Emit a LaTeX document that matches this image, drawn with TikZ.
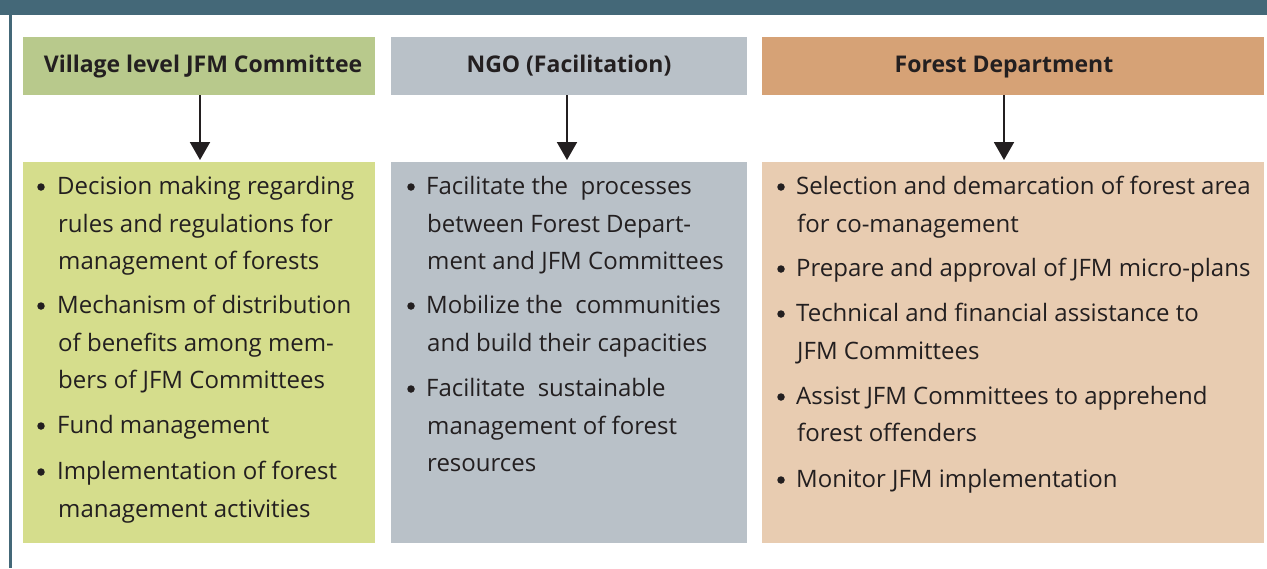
\documentclass[tikz,border=0pt]{standalone}
\usepackage{fontspec}
\setmainfont{Open Sans}
\usetikzlibrary{arrows.meta}
\definecolor{barteal}{HTML}{446878}
\definecolor{hgreen}{HTML}{B8C98C}
\definecolor{bgreen}{HTML}{D5DD8C}
\definecolor{ngogrey}{HTML}{B9C1C8}
\definecolor{horange}{HTML}{D6A276}
\definecolor{borange}{HTML}{E8CCB1}
\definecolor{ink}{HTML}{231F20}
\newcommand\txtline[4]{\node[txt,name=#1] at (#2,#3) {#4};}
\newcommand\dotmark[3]{\node[blt,name=#1] at (#2,#3) {};}
\begin{document}
\begin{tikzpicture}[x=1pt,y=-1pt,
  head/.style={fill=#1,draw=none,inner sep=0},
  body/.style={fill=#1,draw=none,inner sep=0},
  htxt/.style={text=ink,font=\fontsize{23}{27}\selectfont\bfseries,inner sep=0,anchor=base},
  txt/.style={text=ink,font=\fontsize{24}{28}\selectfont,inner sep=0,anchor=base west},
  blt/.style={circle,fill=ink,draw=none,inner sep=0,minimum size=7.5pt},
  flow/.style={draw=ink,line width=2pt,-{Triangle[width=20pt,length=18pt]}}]
\useasboundingbox (0,0) rectangle (1267,568);
% frame
\fill[barteal] (0,0) rectangle (1267,15);
\fill[barteal] (9,15) rectangle (12,568);
% headers
\path[head=hgreen] (23,37) rectangle (375,95);
\path[head=ngogrey] (391,37) rectangle (747,95);
\path[head=horange] (762,37) rectangle (1264,95);
\node[htxt,name=h1] at (203,72) {Village level JFM Committee};
\node[htxt,name=h2] at (569,72) {NGO (Facilitation)};
\node[htxt,name=h3] at (1004,72) {Forest Department};
% bodies
\path[body=bgreen] (23,162) rectangle (375,543);
\path[body=ngogrey] (391,162) rectangle (747,543);
\path[body=borange] (762,162) rectangle (1264,543);
\coordinate (b1) at (200,160);
\coordinate (b2) at (567,160);
\coordinate (b3) at (1004,160);
\coordinate (t1) at (200,95);
\coordinate (t2) at (567,95);
\coordinate (t3) at (1004,95);
\draw[flow] (t1) -- (b1);
\draw[flow] (t2) -- (b2);
\draw[flow] (t3) -- (b3);
% column 1
\dotmark{p11}{41}{187}
\txtline{a1}{57}{194}{Decision making regarding}
\txtline{a2}{58}{232}{rules and regulations for}
\txtline{a3}{58}{269}{management of forests}
\dotmark{p12}{41}{306}
\txtline{a4}{57}{313}{Mechanism of distribution}
\txtline{a5}{58}{351}{of benefits among mem-}
\txtline{a6}{58}{388}{bers of JFM Committees}
\dotmark{p13}{41}{426}
\txtline{a7}{57}{433}{Fund management}
\dotmark{p14}{41}{472}
\txtline{a8}{57}{479}{Implementation of forest}
\txtline{a9}{58}{517}{management activities}
% column 2
\dotmark{p21}{411}{187}
\txtline{b1l}{426}{194}{Facilitate the\ \ processes}
\txtline{b2l}{427}{232}{between Forest Depart-}
\txtline{b3l}{427}{269}{ment and JFM Committees}
\dotmark{p22}{411}{306}
\txtline{b4l}{426}{313}{Mobilize the\ \ communities}
\txtline{b5l}{427}{351}{and build their capacities}
\dotmark{p23}{411}{389}
\txtline{b6l}{426}{396}{Facilitate\ \ sustainable}
\txtline{b7l}{427}{434}{management of forest}
\txtline{b8l}{427}{471}{resources}
% column 3
\dotmark{p31}{781}{187}
\txtline{c1}{796}{194}{Selection and demarcation of forest area}
\txtline{c2}{797}{232}{for co-management}
\dotmark{p32}{781}{269}
\txtline{c3}{796}{276}{Prepare and approval of JFM micro-plans}
\dotmark{p33}{781}{314}
\txtline{c4}{796}{321}{Technical and financial assistance to}
\txtline{c5}{797}{359}{JFM Committees}
\dotmark{p34}{781}{397}
\txtline{c6}{796}{404}{Assist JFM Committees to apprehend}
\txtline{c7}{797}{441}{forest offenders}
\dotmark{p35}{781}{480}
\txtline{c8}{796}{487}{Monitor JFM implementation}
\end{tikzpicture}
\end{document}
